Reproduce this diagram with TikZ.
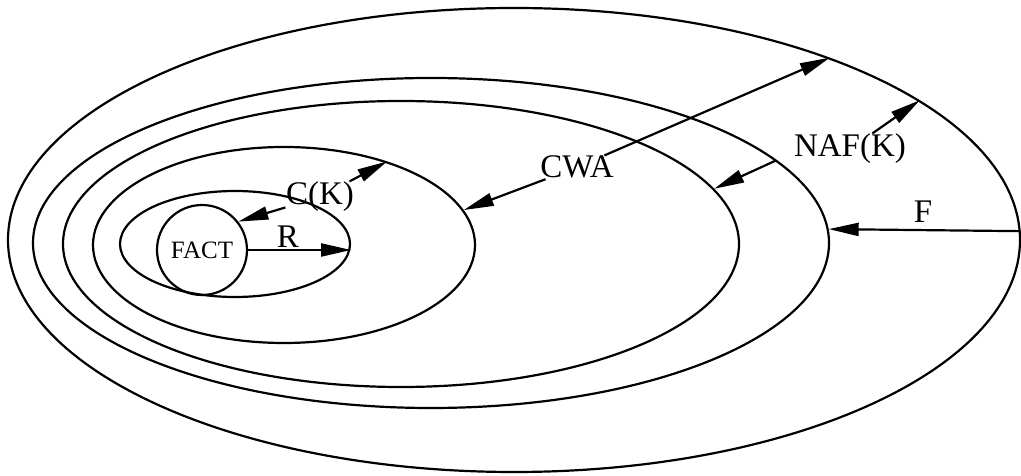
\documentclass[tikz,border=0pt]{standalone}
\usepackage{fontspec}
\setmainfont{Liberation Serif}
\usetikzlibrary{arrows.meta,shapes.geometric}
\begin{document}
\begin{tikzpicture}[x=1pt,y=1pt,
  set/.style={draw,ellipse,inner sep=0pt,line width=2.2pt},
  arr/.style={line width=2.2pt,-{Triangle[length=30pt,width=13pt]}},
  lbl/.style={inner sep=0.5pt,font=\fontsize{33}{38}\selectfont}]
\useasboundingbox (0,0) rectangle (1021,476);
% nested sets
\node[set,minimum width=1012pt,minimum height=464pt] (e1) at (514,236) {};
\node[set,minimum width=796pt,minimum height=330pt] (e2) at (431,233) {};
\node[set,minimum width=676pt,minimum height=286pt] (e3) at (401,232) {};
\node[set,minimum width=382pt,minimum height=196pt] (e4) at (284,231) {};
\node[set,minimum width=230pt,minimum height=106pt] (e5) at (235,232) {};
\node[draw,circle,line width=2.2pt,minimum size=90pt,inner sep=0pt,
      font=\fontsize{25}{30}\selectfont] (fact) at (202,226) {FACT};
% labels
\node[lbl,anchor=base] (r)   at (288,228) {R};
\node[lbl,anchor=base] (ck)  at (320,271) {C(K)};
\node[lbl,anchor=base] (cwa) at (577,298) {CWA};
\node[lbl,anchor=base] (naf) at (850,319) {NAF(K)};
\node[lbl,anchor=base] (f)   at (923,253) {F};
% connectors
\draw[arr] (fact.east) -- (fact.east -| e5.east);
\draw[arr] (ck) -- (fact.38);
\draw[arr] (ck) -- (e4.39);
\draw[arr] (cwa) -- (e4.11.6);
\draw[arr] (cwa) -- (e1.30);
\draw[arr] ([xshift=-18pt,yshift=4pt]naf.south west) -- (e3.10);
\draw[arr] (naf) -- (e1.19.5);
\draw[arr] (e1.1.4) -- (e2.2.2);
\end{tikzpicture}
\end{document}
